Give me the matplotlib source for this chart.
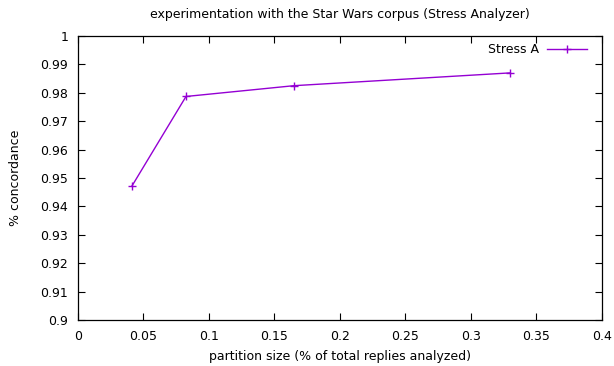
import matplotlib
matplotlib.use("Agg")
import matplotlib.pyplot as plt

# data
partition_size = [0.04125, 0.0825, 0.165, 0.33]
stress_a = [0.9472, 0.9787, 0.9825, 0.987]

xticks = [0, 0.05, 0.1, 0.15, 0.2, 0.25, 0.3, 0.35, 0.4]
xtick_labels = ["0", "0.05", "0.1", "0.15", "0.2", "0.25", "0.3", "0.35", "0.4"]
yticks = [0.9, 0.91, 0.92, 0.93, 0.94, 0.95, 0.96, 0.97, 0.98, 0.99, 1.0]
ytick_labels = ["0.9", "0.91", "0.92", "0.93", "0.94", "0.95", "0.96", "0.97", "0.98", "0.99", "1"]

plt.rcParams['font.family'] = ['DejaVu Sans']

fig = plt.figure(figsize=(6.14, 3.66), dpi=100)
ax = fig.add_axes([0.127, 0.1257, 0.853, 0.776])

ax.plot(partition_size, stress_a, color='#9400d3', linewidth=1.0,
        marker='+', markersize=5.5, markeredgewidth=1.0, label='Stress A')

ax.set_xlim(0, 0.4)
ax.set_ylim(0.9, 1.0)
ax.set_xticks(xticks)
ax.set_xticklabels(xtick_labels)
ax.set_yticks(yticks)
ax.set_yticklabels(ytick_labels)
ax.tick_params(direction='in', top=True, right=True, length=5, width=0.8,
               labelsize=9, pad=7, colors='black')
for sp in ax.spines.values():
    sp.set_linewidth(0.9)

ax.set_title('experimentation with the Star Wars corpus (Stress Analyzer)',
             fontsize=9, pad=13)
ax.set_xlabel('partition size (% of total replies analyzed)', fontsize=9, labelpad=5)
ax.set_ylabel('% concordance', fontsize=9, labelpad=13)

ax.legend(loc='upper right', bbox_to_anchor=(0.986, 1.0), frameon=False,
          markerfirst=False, fontsize=9, handlelength=3.2,
          borderaxespad=0.2, handletextpad=0.6)

fig.savefig('out.png', dpi=100)
